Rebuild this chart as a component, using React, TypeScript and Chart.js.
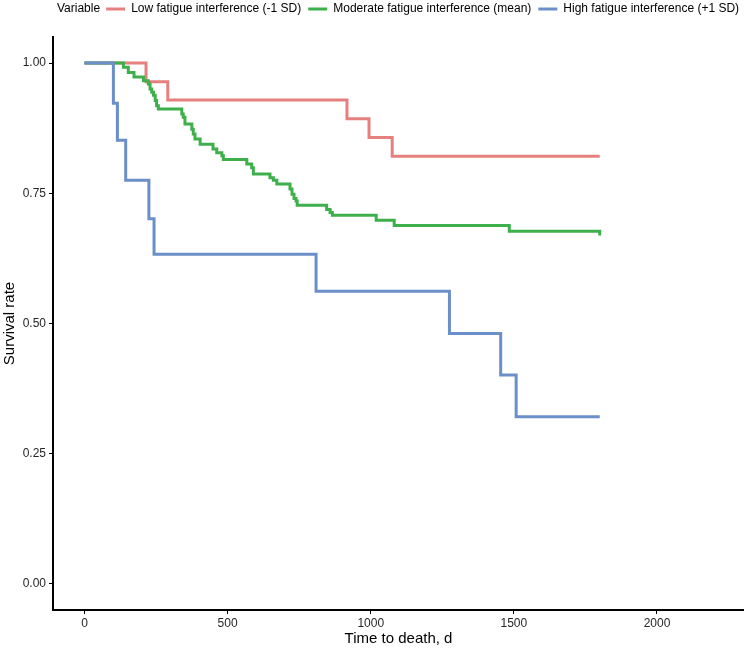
import React, { useEffect, useRef } from "react";
import { Chart, registerables } from "chart.js";

Chart.register(...registerables);

const legendTitle = "Variable";
const seriesLabels = [
  "Low fatigue interference (-1 SD)",
  "Moderate fatigue interference (mean)",
  "High fatigue interference (+1 SD)",
];
const seriesColors = ["#E5807F", "#3DAF4B", "#6B8FC8"];

const xTicks = [0, 500, 1000, 1500, 2000];
const yTicks = [0, 0.25, 0.5, 0.75, 1];

const lowTimes = [0, 215, 291, 917, 994, 1075, 1800];
const lowSurv = [1, 0.964, 0.929, 0.893, 0.857, 0.821, 0.821];

const modTimes = [
  0, 136, 153, 173, 206, 223, 229, 235, 241, 247, 252, 258, 340, 345, 351, 375,
  380, 386, 404, 449, 462, 480, 485, 567, 584, 590, 648, 660, 672, 718, 725, 732,
  739, 743, 846, 858, 866, 1019, 1082, 1484, 1800,
];
const modSurv = [
  1, 0.992, 0.982, 0.973, 0.966, 0.96, 0.95, 0.944, 0.938, 0.928, 0.918, 0.912,
  0.902, 0.896, 0.883, 0.873, 0.864, 0.854, 0.844, 0.835, 0.828, 0.822, 0.815,
  0.806, 0.799, 0.787, 0.78, 0.775, 0.768, 0.758, 0.748, 0.74, 0.735, 0.727,
  0.719, 0.713, 0.708, 0.698, 0.688, 0.677, 0.669,
];

const highTimes = [0, 101, 115, 144, 225, 243, 809, 1275, 1454, 1508, 1800];
const highSurv = [1, 0.923, 0.852, 0.775, 0.701, 0.633, 0.562, 0.481, 0.401, 0.321, 0.321];

const FONT = "'Liberation Sans', Arial, Helvetica, sans-serif";

export default function App() {
  const ref = useRef<HTMLCanvasElement>(null);

  useEffect(() => {
    document.body.style.margin = "0";
    const toPts = (t: number[], s: number[]) => t.map((x, i) => ({ x, y: s[i] }));

    const legendPlugin = {
      id: "customLegend",
      afterDraw(chart: any) {
        const ctx = chart.ctx as CanvasRenderingContext2D;
        ctx.save();
        ctx.font = `12px ${FONT}`;
        ctx.textBaseline = "middle";
        ctx.textAlign = "left";
        const y = 9;
        let x = 57;
        ctx.fillStyle = "#000";
        ctx.fillText(legendTitle, x, y);
        x += ctx.measureText(legendTitle).width + 6;
        chart.data.datasets.forEach((ds: any) => {
          ctx.strokeStyle = ds.borderColor;
          ctx.lineWidth = 3;
          ctx.beginPath();
          ctx.moveTo(x, y);
          ctx.lineTo(x + 19, y);
          ctx.stroke();
          x += 19 + 6;
          ctx.fillStyle = "#000";
          ctx.fillText(ds.label, x, y);
          x += ctx.measureText(ds.label).width + 7;
        });
        ctx.restore();
      },
    };

    const mk = (label: string, color: string, t: number[], s: number[], order: number) => ({
      label,
      data: toPts(t, s),
      borderColor: color,
      backgroundColor: color,
      borderWidth: 3,
      pointRadius: 0,
      stepped: true as const,
      tension: 0,
      fill: false,
      order,
    });

    const chart = new Chart(ref.current!, {
      type: "line",
      data: {
        datasets: [
          mk(seriesLabels[0], seriesColors[0], lowTimes, lowSurv, 3),
          mk(seriesLabels[1], seriesColors[1], modTimes, modSurv, 2),
          mk(seriesLabels[2], seriesColors[2], highTimes, highSurv, 1),
        ],
      },
      options: {
        animation: false,
        responsive: false,
        devicePixelRatio: 1,
        layout: { padding: { top: 37, left: 0, right: 0, bottom: 0 } },
        plugins: { legend: { display: false }, tooltip: { enabled: false } },
        scales: {
          x: {
            type: "linear",
            min: -110,
            max: 2304,
            afterBuildTicks: (s: any) => {
              s.ticks = xTicks.map((v) => ({ value: v }));
            },
            afterFit: (s: any) => {
              s.height = 39;
            },
            ticks: {
              font: { family: FONT, size: 12 },
              color: "#262626",
              padding: 2,
              maxRotation: 0,
              autoSkip: false,
              callback: (v: any) => String(v),
            },
            grid: { drawOnChartArea: false, drawTicks: true, tickLength: 4, tickColor: "#000", tickWidth: 1 },
            border: { display: true, color: "#000", width: 2 },
            title: {
              display: true,
              text: "Time to death, d",
              font: { family: FONT, size: 15 },
              color: "#000",
              padding: { top: 0, bottom: 1 },
            },
          },
          y: {
            type: "linear",
            min: -0.05,
            max: 1.05,
            afterBuildTicks: (s: any) => {
              s.ticks = yTicks.map((v) => ({ value: v }));
            },
            afterFit: (s: any) => {
              s.width = 53;
            },
            ticks: {
              font: { family: FONT, size: 12 },
              color: "#262626",
              padding: 3,
              autoSkip: false,
              callback: (v: any) => Number(v).toFixed(2),
            },
            grid: { drawOnChartArea: false, drawTicks: true, tickLength: 4, tickColor: "#000", tickWidth: 1 },
            border: { display: true, color: "#000", width: 2 },
            title: {
              display: true,
              text: "Survival rate",
              font: { family: FONT, size: 15 },
              color: "#000",
              padding: { top: 1, bottom: 0 },
            },
          },
        },
      },
      plugins: [legendPlugin],
    });
    return () => chart.destroy();
  }, []);

  return (
    <div style={{ position: "absolute", left: 0, top: 0, width: 744, height: 649 }}>
      <canvas ref={ref} width={744} height={649} style={{ display: "block" }} />
    </div>
  );
}
